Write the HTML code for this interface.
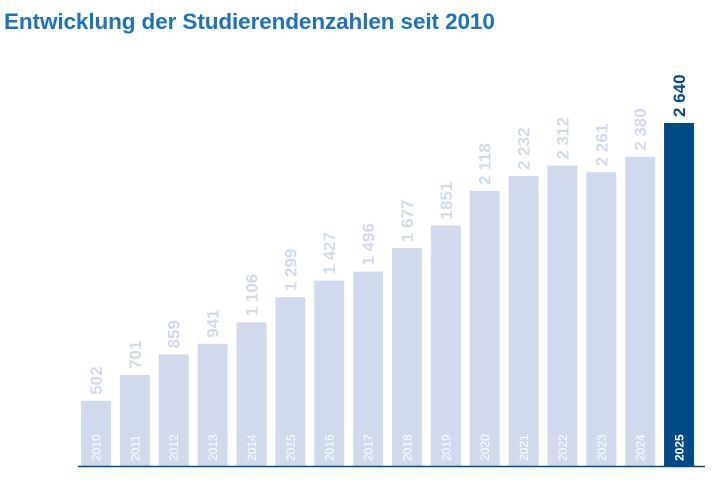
<!DOCTYPE html>
<html><head><meta charset="utf-8"><style>
body{margin:0;background:#fff;width:712px;height:485px;overflow:hidden;font-family:"Liberation Sans",sans-serif}
h1{position:absolute;left:4px;top:9px;margin:0;font-size:22.5px;font-weight:bold;color:#1b73bd;letter-spacing:-0.1px}
</style></head><body>
<h1>Entwicklung der Studierendenzahlen seit 2010</h1>
<svg id="chart" width="712" height="485" style="position:absolute;left:0;top:0"></svg>
<script>
const years=["2010","2011","2012","2013","2014","2015","2016","2017","2018","2019","2020","2021","2022","2023","2024","2025"];
const values=[502,701,859,941,1106,1299,1427,1496,1677,1851,2118,2232,2312,2261,2380,2640];
const labels=["502","701","859","941","1 106","1 299","1 427","1 496","1 677","1851","2 118","2 232","2 312","2 261","2 380","2 640"];
const svg=document.getElementById('chart');const NS='http://www.w3.org/2000/svg';
const base=466,scale=343/2640,x0=81,step=38.87,bw=30;
const y=v=>base-v*scale, x=i=>x0+i*step;
function el(t,a){const e=document.createElementNS(NS,t);for(const k in a)e.setAttribute(k,a[k]);svg.appendChild(e);return e;}
values.forEach((v,i)=>{
 const last=i===values.length-1;
 const r=el('rect',{x:x(i),y:y(v),width:bw,height:base-y(v),fill:last?'#004a88':'#d0daec'});
 
 
 const cx=x(i)+bw/2;
 const t=el('text',{x:0,y:0,transform:`translate(${cx+6},${y(v)-6}) rotate(-90)`,'font-size':17,'font-weight':'bold',fill:last?'#004a88':'#d0daec'});
 t.textContent=labels[i];
 
 
 const yl=el('text',{x:0,y:0,transform:`translate(${cx+4.5},${base-5}) rotate(-90)`,'font-size':12,fill:'#fff','font-weight':last?'bold':'normal'});
 yl.textContent=years[i];
 
 
});
const ax=el('line',{x1:78,x2:705,y1:base+0.5,y2:base+0.5,stroke:'#004a88','stroke-width':1.5});


</script>
</body></html>
